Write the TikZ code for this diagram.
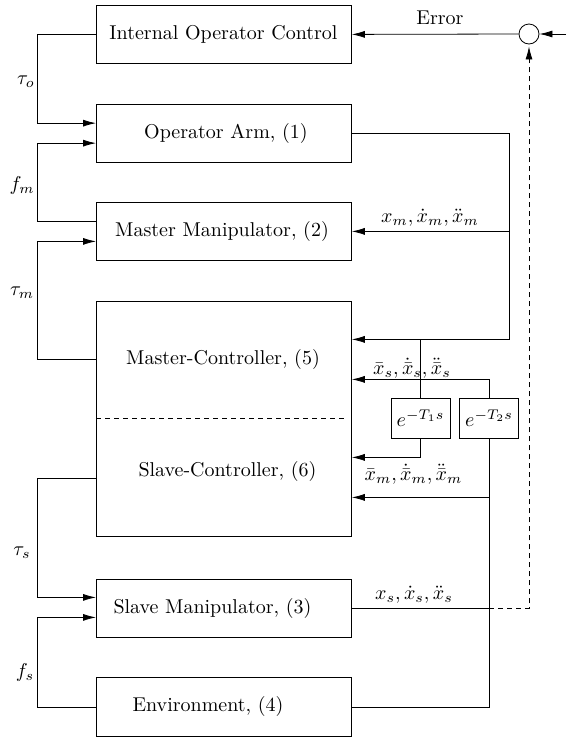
\documentclass[tikz,border=0pt]{standalone}
\usepackage{graphicx}
\usetikzlibrary{arrows.meta}
\begin{document}
\begin{tikzpicture}[x=1pt,y=-1pt,
  line width=0.8pt,
  box/.style={draw, line width=0.8pt, minimum width=255pt, minimum height=58pt, inner sep=0pt, anchor=north west},
  dbox/.style={draw, line width=0.8pt, minimum width=59pt, minimum height=40pt, inner sep=0pt, font=\fontsize{10pt}{12pt}\selectfont},
  txt/.style={inner sep=0pt, font=\fontsize{10pt}{12pt}\selectfont, scale=2, transform shape},
  arr/.style={-{Latex[length=13pt,width=7pt]}},
  dsh/.style={dash pattern=on 5pt off 4pt}
]
\useasboundingbox (0,0) rectangle (566,737);

% boxes
\node[box] (ioc) at (96,5) {};
\node[box, minimum height=58.5pt] (oa) at (96,103.5) {};
\node[box] (mm) at (96,202) {};
\node[box, minimum height=235pt] (ctrl) at (96,301) {};
\node[box] (sm) at (96,579) {};
\node[box, minimum height=59pt] (env) at (96,677) {};

% box texts
\node[txt] (tioc) at (223.5,34) {Internal Operator Control};
\node[txt] (toa) at (226,133) {Operator Arm, (1)};
\node[txt] (tmm) at (222,231) {Master Manipulator, (2)};
\node[txt] (tmc) at (223,359) {Master-Controller, (5)};
\node[txt] (tsc) at (227.5,471) {Slave-Controller, (6)};
\node[txt] (tsm) at (212.5,608) {Slave Manipulator, (3)};
\node[txt] (tenv) at (208,706.5) {Environment, (4)};

% delay boxes and summing junction
\node[dbox] (d1) at (420.5,418) {\scalebox{2}{$e^{-T_1 s}$}};
\node[dbox] (d2) at (489,418) {\scalebox{2}{$e^{-T_2 s}$}};
\node[draw, circle, minimum size=20pt, inner sep=0pt, line width=0.8pt] (sum) at (529,34) {};

% helper coordinates
\coordinate (L) at (37,0);
\coordinate (R) at (509,0);
\coordinate (in) at (566,34);
\coordinate (c5a) at ([yshift=79.5pt]ctrl.east);
\coordinate (c5b) at ([yshift=39.5pt]ctrl.east);
\coordinate (c6a) at ([yshift=-38.5pt]ctrl.east);
\coordinate (c6b) at ([yshift=-78.5pt]ctrl.east);

% divider
\draw[dsh] ([yshift=0.8pt]ctrl.west) -- ([xshift=-4pt,yshift=0.8pt]ctrl.east);

% left loops
\draw[arr] (ioc.west) -- (ioc.west -| L) |- ([yshift=10pt]oa.west);
\draw[arr] ([yshift=10pt]mm.west) -- ([yshift=10pt]mm.west -| L) |- ([yshift=-10pt]oa.west);
\draw[arr] ([yshift=59.5pt]ctrl.west) -- ([yshift=59.5pt]ctrl.west -| L) |- ([yshift=-10pt]mm.west);
\draw[arr] ([yshift=-59.5pt]ctrl.west) -- ([yshift=-59.5pt]ctrl.west -| L) |- ([yshift=11pt]sm.west);
\draw[arr] (env.west) -- (env.west -| L) |- ([yshift=-9pt]sm.west);

% right side
\draw[arr] (oa.east) -- (oa.east -| R) |- (c5a);
\draw[arr] (mm.east -| R) -- (mm.east);
\draw (d1.north) -- (d1.north |- c5a);
\draw[arr] (d1.south) |- (c6a);
\draw[arr] (d2.north) |- (c5b);
\draw (env.east) -| (d2.south);
\draw[arr] (d2.south |- c6b) -- (c6b);
\draw (sm.east) -- (sm.east -| d2.south);
\draw[dsh, arr] (sm.east -| d2.south) -| ([yshift=-2pt]sum.south);
\draw[arr] (in) -- (sum.east);
\draw[arr] (sum.west) -- (ioc.east);

% labels
\node[txt] at (440,18) {Error};
\node[txt] at (26,82) {$\tau_o$};
\node[txt] at (22,185) {$f_m$};
\node[txt] at (22,293) {$\tau_m$};
\node[txt] at (22,553) {$\tau_s$};
\node[txt] at (25,672) {$f_s$};
\node[txt] at (430,218) {$x_m,\dot x_m,\ddot x_m$};
\node[txt] at (412,368) {$\bar x_s,\dot{\bar x}_s,\ddot{\bar x}_s$};
\node[txt] at (413.5,474) {$\bar x_m,\dot{\bar x}_m,\ddot{\bar x}_m$};
\node[txt] at (414,595) {$x_s,\dot x_s,\ddot x_s$};
\end{tikzpicture}
\end{document}
